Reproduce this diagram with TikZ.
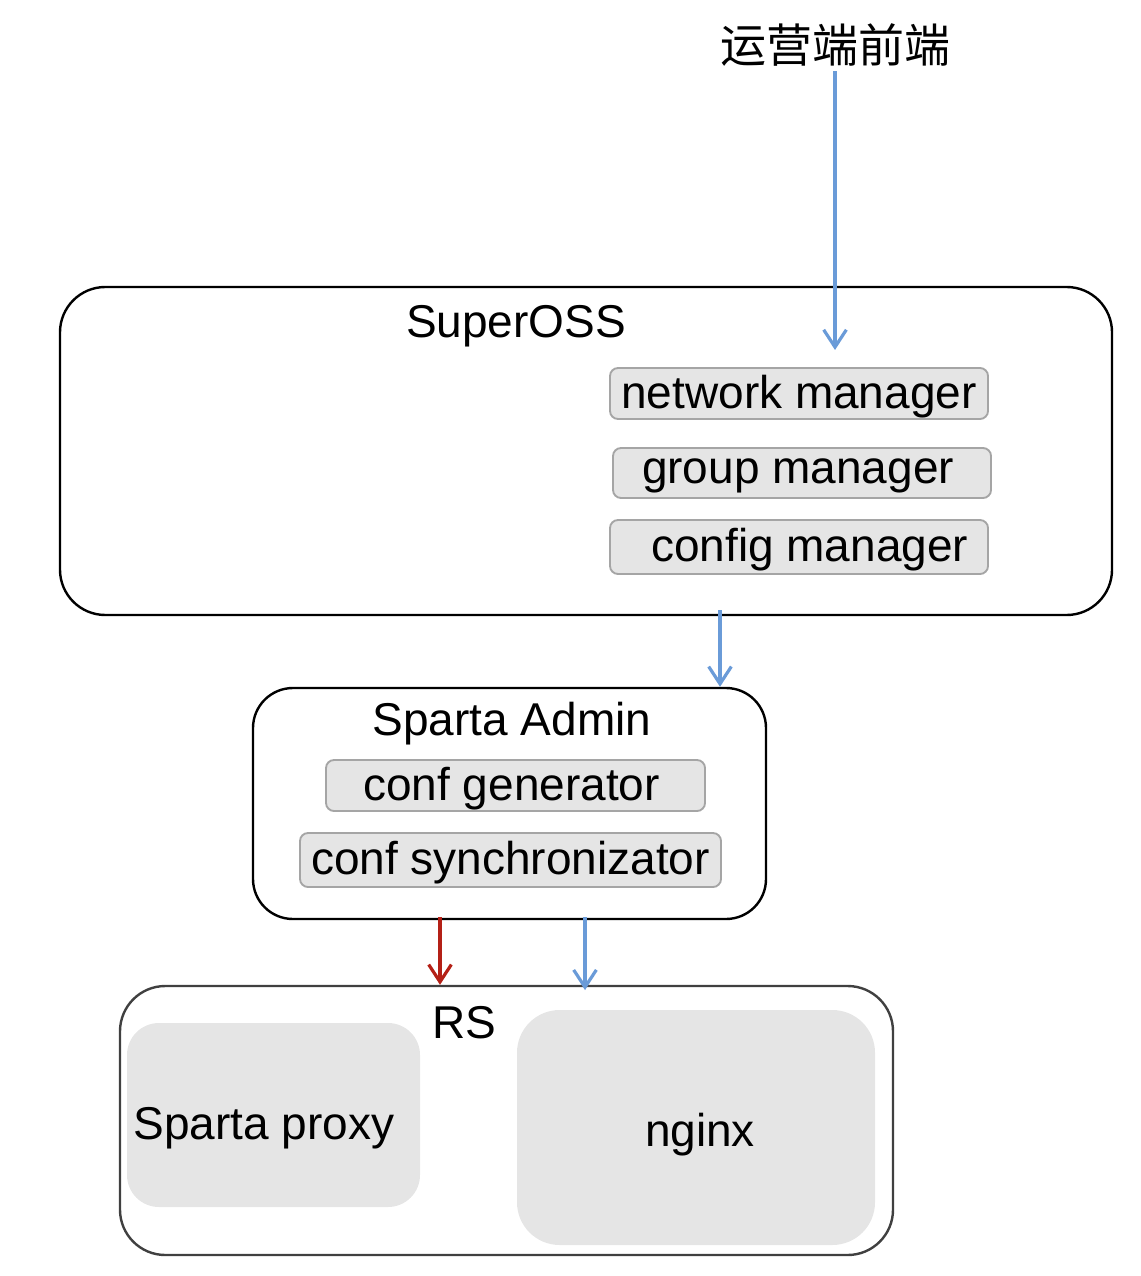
\documentclass[tikz,border=0pt]{standalone}
\usepackage{fontspec}
\setmainfont{Liberation Sans}
\newfontfamily\cjkfont{Noto Sans CJK SC}
\usetikzlibrary{arrows.meta,positioning,fit}
\definecolor{flowblue}{RGB}{106,155,216}
\definecolor{flowred}{RGB}{180,32,22}
\definecolor{boxgray}{RGB}{229,229,229}
\definecolor{edgegray}{RGB}{165,165,165}
\tikzstyle{outer}=[draw=black,line width=1.8pt,inner sep=0pt]
\tikzstyle{part}=[draw=edgegray,fill=boxgray,line width=1.4pt,rounded corners=6pt,inner sep=0pt]
\tikzstyle{blob}=[fill=boxgray,inner sep=0pt]
\tikzstyle{flow}=[line width=2.4pt,-{Straight Barb[length=13pt,width=17pt,line width=2.4pt]}]

\begin{document}
\begin{tikzpicture}[x=0.75pt,y=-0.75pt,font=\fontsize{34.5}{40}\selectfont,every label/.style={yshift=-2pt}]
\useasboundingbox (0,0) rectangle (1140,1276);

\node (front) at (835,45) {\cjkfont 运营端前端};

\node [outer,rounded corners=34pt,fit={(60,287) (1112,615)}] (supeross) {};
\node [anchor=base] (superosst) at (516,338) {SuperOSS};
\node [part,fit={(610,368) (988,419)},label={center:network manager}] (netmgr) {};
\node [part,fit={(613,448) (991,498)},label={[xshift=-3pt]center:group manager}] (grpmgr) {};
\node [part,fit={(610,520) (988,574)},label={[xshift=8pt]center:config manager}] (cfgmgr) {};

\node [outer,rounded corners=30pt,fit={(253,688) (766,919)}] (admin) {};
\node [anchor=base] (admint) at (512,735) {Sparta Admin};
\node [part,fit={(326,760) (705,811)},label={[xshift=-3pt]center:conf generator}] (confgen) {};
\node [part,fit={(300,833) (721,887)},label={center:conf synchronizator}] (confsync) {};

\node [outer,draw=black!75,rounded corners=34pt,fit={(120,986) (893,1255)}] (rs) {};
\node [anchor=base] (rst) at (464,1038) {RS};
\node [blob,rounded corners=24pt,fit={(127,1023) (420,1207)}] (proxy) {};
\node [anchor=base] (proxyt) at (264,1139) {Sparta proxy};
\node [blob,rounded corners=32pt,fit={(517,1010) (875,1245)}] (nginx) {};
\node [anchor=base] (nginxt) at (700,1146) {nginx};

\coordinate (in1) at (835,350);
\coordinate (a2) at (720,610);
\coordinate (r3) at (440,917);
\coordinate (b3) at (585,917);

\draw [flow,flowblue] (front.south) -- (in1);
\draw [flow,flowblue] (a2) -- (a2 |- admin.north);
\draw [flow,flowred] (r3) -- (r3 |- rs.north);
\draw [flow,flowblue] (b3) -- ([yshift=-4pt]b3 |- rs.north);
\end{tikzpicture}
\end{document}
